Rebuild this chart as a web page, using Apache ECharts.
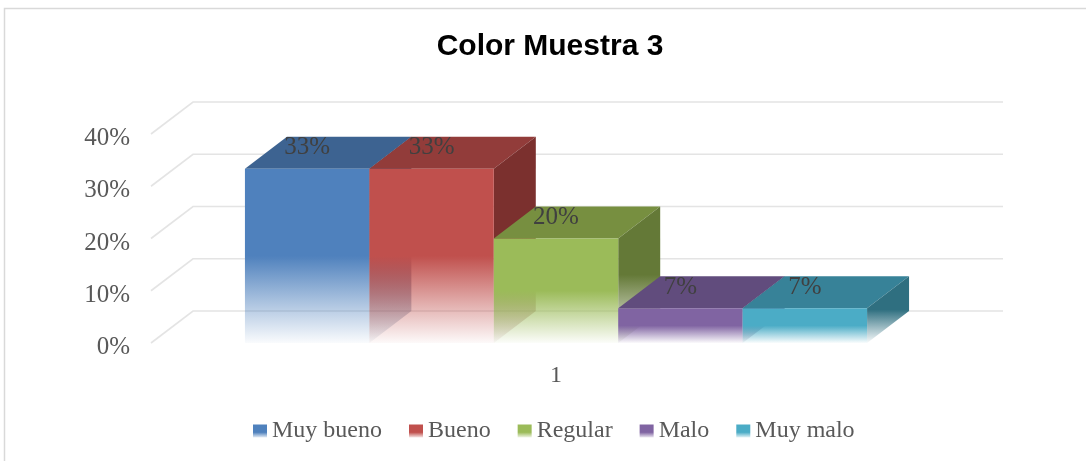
<!DOCTYPE html>
<html>
<head>
<meta charset="utf-8">
<script src="https://cdn.jsdelivr.net/npm/echarts@6/dist/echarts.min.js"></script>
<style>
  html, body { margin: 0; padding: 0; background: #ffffff; }
  #chart { width: 1086px; height: 461px; }
</style>
</head>
<body>
<div id="chart"></div>
<script>
// Chart data
const categories = ['1'];
const seriesNames = ['Muy bueno', 'Bueno', 'Regular', 'Malo', 'Muy malo'];
const values = [0.3333, 0.3333, 0.2, 0.0667, 0.0667];
const yTicks = [0, 0.1, 0.2, 0.3, 0.4];

// Face colours for each series (front, top, right side)
const frontColors = ['#4f81bd', '#c0504d', '#9bbb59', '#8064a2', '#4bacc6'];
const topColors = ['#3d6391', '#923c3a', '#778f40', '#614c7d', '#378298'];
const sideColors = ['#335279', '#7b302e', '#647937', '#513f6a', '#2f6f80'];

// Oblique projection of the depth axis (pixels)
const DX = 42;
const DY = -32;
const GAP_RATIO = 1.51;
const SERIF = "'Liberation Serif', 'DejaVu Serif', serif";

function rgba(hex, a) {
  const n = parseInt(hex.slice(1), 16);
  return 'rgba(' + ((n >> 16) & 255) + ',' + ((n >> 8) & 255) + ',' + (n & 255) + ',' + a + ')';
}

function fadeGradient(hex) {
  return new echarts.graphic.LinearGradient(0, 0, 0, 1, [
    { offset: 0, color: rgba(hex, 1) },
    { offset: 0.5, color: rgba(hex, 1) },
    { offset: 0.78, color: rgba(hex, 0.45) },
    { offset: 1, color: rgba(hex, 0.03) }
  ]);
}

const pct = v => Math.round(v * 100) + '%';

// Back wall and floor grid lines, drawn in perspective from the tick values
function renderWall(params, api) {
  const cs = params.coordSys;
  const y = api.coord([0, api.value(1)])[1];
  return {
    type: 'polyline',
    shape: { points: [[cs.x, y], [cs.x + DX, y + DY], [cs.x + cs.width + DX, y + DY]] },
    style: { stroke: '#e4e4e4', lineWidth: 1.6, fill: null },
    z2: 0
  };
}

// One 3D column: top face, right face, front face and value label
function makeBarRenderer(i) {
  return function (params, api) {
    const v = api.value(1);
    const base = api.coord([api.value(0), 0]);
    const top = api.coord([api.value(0), v]);
    const band = api.size([1, 0])[0];
    const n = seriesNames.length;
    const w = band / (n + GAP_RATIO);
    const x0 = base[0] - (w * n) / 2 + i * w;
    const x1 = x0 + w;
    const yb = base[1];
    const yt = top[1];
    const zb = 10 + i * 5;
    return {
      type: 'group',
      children: [
        {
          type: 'polygon',
          shape: { points: [[x0, yt], [x1, yt], [x1 + DX, yt + DY], [x0 + DX, yt + DY]] },
          style: { fill: topColors[i] },
          z2: zb
        },
        {
          type: 'polygon',
          shape: { points: [[x1, yb], [x1, yt], [x1 + DX, yt + DY], [x1 + DX, yb + DY]] },
          style: { fill: fadeGradient(sideColors[i]) },
          z2: zb + 1
        },
        {
          type: 'rect',
          shape: { x: x0, y: yt, width: w, height: yb - yt },
          style: { fill: fadeGradient(frontColors[i]) },
          z2: zb + 2
        },
        {
          type: 'text',
          x: (x0 + x1) / 2,
          y: yt - 21,
          style: {
            text: pct(v),
            fill: '#404040',
            font: '25px ' + SERIF,
            align: 'center',
            verticalAlign: 'middle'
          },
          z2: 200
        }
      ]
    };
  };
}

const series = [
  {
    type: 'custom',
    name: 'wall',
    silent: true,
    z: 1,
    renderItem: renderWall,
    data: yTicks.map(t => [0, t])
  }
].concat(seriesNames.map((name, i) => ({
  type: 'custom',
  name: name,
  z: 2,
  itemStyle: {
    color: new echarts.graphic.LinearGradient(0, 0, 0, 1, [
      { offset: 0, color: frontColors[i] },
      { offset: 0.6, color: frontColors[i] },
      { offset: 1, color: rgba(frontColors[i], 0.15) }
    ])
  },
  renderItem: makeBarRenderer(i),
  data: [[0, values[i]]]
})));

const chart = echarts.init(document.getElementById('chart'), null, { renderer: 'canvas' });
chart.setOption({
  animation: false,
  backgroundColor: '#ffffff',
  title: {
    text: 'Color Muestra 3',
    left: 550,
    textAlign: 'center',
    top: 32,
    padding: 0,
    textStyle: {
      fontFamily: "'Liberation Sans', Arial, sans-serif",
      fontWeight: 'bold',
      fontSize: 30,
      color: '#000000'
    }
  },
  graphic: [{
    type: 'rect',
    z: -1,
    silent: true,
    shape: { x: 4.5, y: 8.5, width: 1200, height: 600 },
    style: { fill: null, stroke: '#d9d9d9', lineWidth: 1.5 }
  }],
  legend: {
    data: seriesNames,
    left: 253,
    top: 419,
    padding: 0,
    icon: 'rect',
    itemWidth: 14,
    itemHeight: 13,
    itemGap: 27,
    textStyle: { fontFamily: SERIF, fontSize: 24, color: '#595959' }
  },
  grid: { left: 151, right: 125, top: 134, bottom: 118 },
  xAxis: {
    type: 'category',
    data: categories,
    axisLine: { show: false },
    axisTick: { show: false },
    splitLine: { show: false },
    axisLabel: { margin: 21, fontFamily: SERIF, fontSize: 24, color: '#595959' }
  },
  yAxis: {
    type: 'value',
    min: 0,
    max: 0.4,
    interval: 0.1,
    axisLine: { show: false },
    axisTick: { show: false },
    splitLine: { show: false },
    axisLabel: {
      margin: 21,
      formatter: pct,
      fontFamily: SERIF,
      fontSize: 25,
      color: '#595959',
      verticalAlign: 'top',
      lineHeight: 9
    }
  },
  series: series
});
</script>
</body>
</html>
